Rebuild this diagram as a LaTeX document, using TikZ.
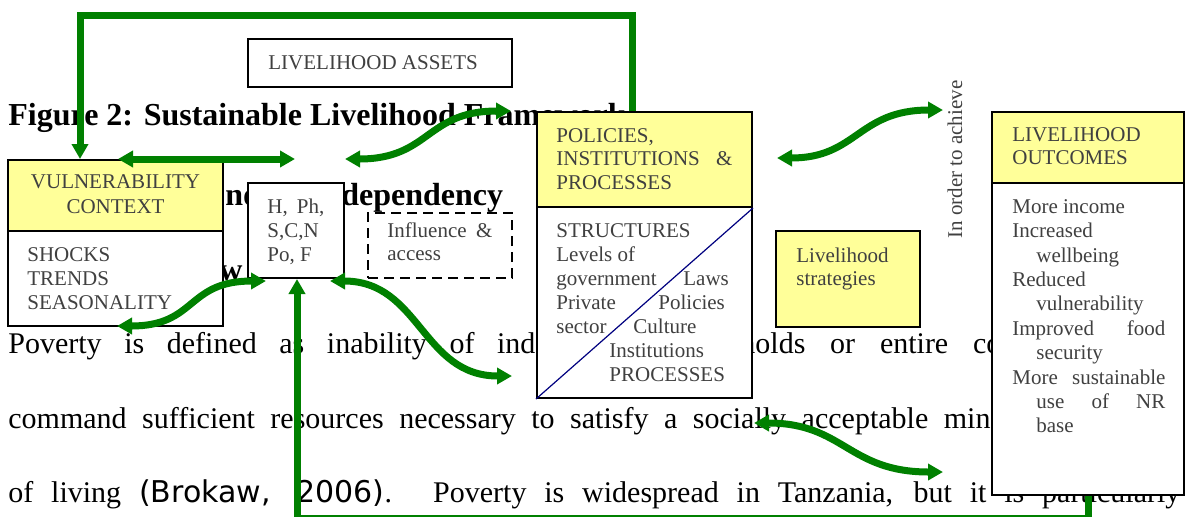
\documentclass[tikz,border=0pt]{standalone}
\usepackage{fontspec}
\setmainfont{Liberation Serif}
\newfontfamily\citefont{DejaVu Sans}
\usetikzlibrary{arrows.meta,fit}
\definecolor{slfgreen}{RGB}{0,128,0}
\definecolor{slfyellow}{RGB}{255,255,153}
\definecolor{slfgrey}{RGB}{64,64,64}
\definecolor{slfnavy}{RGB}{0,0,128}
\newcommand{\lblsize}{\fontsize{10.5}{12.5}\selectfont}
\newcommand{\bodysize}{\fontsize{15}{18}\selectfont}
\newcommand{\headsize}{\fontsize{16}{19}\selectfont\bfseries}

\begin{document}
\begin{tikzpicture}[x=0.5pt,y=-0.5pt,
    panel/.style={draw,line width=1pt,inner sep=0pt,fill=white},
    lbl/.style={anchor=base west,inner sep=0pt,text=slfgrey,font=\lblsize},
    txt/.style={anchor=base west,inner sep=0pt,font=\bodysize},
    head/.style={anchor=base west,inner sep=0pt,font=\headsize},
    link/.style={slfgreen,line width=3.5pt,-{Triangle[length=7.5pt,width=8pt]}},
    twoway/.style={slfgreen,line width=3.5pt,{Triangle[length=7.5pt,width=8pt]}-{Triangle[length=7.5pt,width=8pt]}}]

    \useasboundingbox (0,0) rectangle (1188,516);

    % Page text running behind the framework
    \node[head] (caption) at (8,125) {Figure 2: Sustainable Livelihood Framework};
    \node[head] (subA) at (225,205) {nd};
    \node[head] (subB) at (341,205) {dependency};
    \node[head] (subC) at (219,280) {w};
    \node[txt] (lineA) at (8,353) {\makebox[263.5pt][s]{Poverty is defined as inability of ind}};
    \node[txt] (lineB) at (740,353) {\makebox[130.5pt][s]{holds or entire co}};
    \node[txt] (lineC) at (8,428) {\makebox[491pt][s]{command sufficient resources necessary to satisfy a socially acceptable min}};
    \node[txt] (lineD) at (8,502) {\makebox[586pt][s]{of living {\citefont(Brokaw, 2006)}. Poverty is widespread in Tanzania, but it is particularly}};

    % Livelihood assets
    \node[panel,fit={(248,39) (512,87)}] (assets) {};
    \node[lbl] (assetsText) at (268,69) {LIVELIHOOD ASSETS};

    % Vulnerability context
    \node[panel,fit={(8,160) (223,326)}] (vuln) {};
    \node[panel,fill=slfyellow,fit={(8,160) (223,231)}] (vulnHead) {};
    \node[lbl,anchor=base] (vulnT1) at (115.5,188) {VULNERABILITY};
    \node[lbl,anchor=base] (vulnT2) at (115.5,213) {CONTEXT};
    \foreach \y/\t in {261/SHOCKS,285/TRENDS,309/SEASONALITY}
        \node[lbl] (vuln-\y) at (27,\y) {\t};

    % Capitals
    \node[panel,fit={(248,183) (344,278)}] (capitals) {};
    \node[lbl] (cap1) at (267,213) {\makebox[28.5pt][s]{H, Ph,}};
    \node[lbl] (cap2) at (267,237) {S,C,N};
    \node[lbl] (cap3) at (267,261) {Po, F};

    % Influence and access
    \node[panel,dashed,dash pattern=on 5pt off 3pt,fit={(368,213) (512,278)}] (access) {};
    \node[lbl] (acc1) at (387,237) {\makebox[52.5pt][s]{Influence \&}};
    \node[lbl] (acc2) at (387,260) {access};

    % Policies, institutions and processes
    \node[panel,fit={(537,112) (752,398)}] (pip) {};
    \node[panel,fill=slfyellow,fit={(537,112) (752,207)}] (pipHead) {};
    \draw[slfnavy,line width=0.6pt] (pip.south west) -- (pipHead.south east);
    \node[lbl] (pip1) at (556,142) {POLICIES,};
    \node[lbl] (pip2) at (556,165) {\makebox[88pt][s]{INSTITUTIONS \&}};
    \node[lbl] (pip3) at (556,189) {PROCESSES};
    \foreach \y/\t in {237/STRUCTURES,261/Levels of,285/government,309/Private,333/sector}
        \node[lbl] (struct-\y) at (556,\y) {\t};
    \foreach \x/\y/\t in {683/285/Laws,658/309/Policies,633/333/Culture,609/357/Institutions,609/381/PROCESSES}
        \node[lbl] (proc-\y) at (\x,\y) {\t};

    % Livelihood strategies
    \node[panel,fill=slfyellow,fit={(776,231) (920,327)}] (strategies) {};
    \node[lbl] (strat1) at (796,262) {Livelihood};
    \node[lbl] (strat2) at (796,285) {strategies};

    \node[lbl,rotate=90] (achieve) at (962,239) {In order to achieve};

    % Livelihood outcomes
    \node[panel,fit={(992,112) (1184,495)}] (outcomes) {};
    \node[panel,fill=slfyellow,fit={(992,112) (1184,183)}] (outHead) {};
    \node[lbl] (out1) at (1012,141) {LIVELIHOOD};
    \node[lbl] (out2) at (1012,164) {OUTCOMES};
    \foreach \x/\y/\t in {1012/213/More income,1012/237/Increased,1036/262/wellbeing,
                          1012/286/Reduced,1036/310/vulnerability,1036/359/security,1036/432/base}
        \node[lbl] (res-\y) at (\x,\y) {\t};
    \node[lbl] (res-335) at (1012,335) {\makebox[76.5pt][s]{Improved food}};
    \node[lbl] (res-384) at (1012,384) {\makebox[76.5pt][s]{More sustainable}};
    \node[lbl] (res-408) at (1036,408) {\makebox[64.5pt][s]{use of NR}};

    % Feedback loops
    \coordinate (topRight) at (632,15);
    \coordinate (topLeft) at (80,15);
    \draw[link] (pip.north -| topRight) |- (topLeft) -- (topLeft |- vuln.north);

    \coordinate (bottomLeft) at (297,518);
    \coordinate (bottomRight) at (1088,518);
    \draw[link] (bottomRight |- outcomes.south) -- (bottomRight) -- (bottomLeft) -- (bottomLeft |- capitals.south);

    % Two-way links
    \coordinate (vA) at (118,159);
    \coordinate (vB) at (295,159);
    \draw[twoway] (vA) -- (vB);

    \coordinate (sA1) at (345,159);
    \coordinate (sA2) at (511,111);
    \draw[twoway] (sA1) .. controls +(85,0) and +(-85,0) .. (sA2);

    \coordinate (sB1) at (117,326);
    \coordinate (sB2) at (266,281);
    \draw[twoway] (sB1) .. controls +(80,0) and +(-80,0) .. (sB2);

    \coordinate (sC1) at (330,281);
    \coordinate (sC2) at (512,376);
    \draw[twoway] (sC1) .. controls +(90,0) and +(-90,0) .. (sC2);

    \coordinate (sD1) at (777,158);
    \coordinate (sD2) at (943,110);
    \draw[twoway] (sD1) .. controls +(80,0) and +(-85,0) .. (sD2);

    \coordinate (sE1) at (754,423);
    \coordinate (sE2) at (943,472);
    \draw[twoway] (sE1) .. controls +(90,0) and +(-95,0) .. (sE2);
\end{tikzpicture}
\end{document}
